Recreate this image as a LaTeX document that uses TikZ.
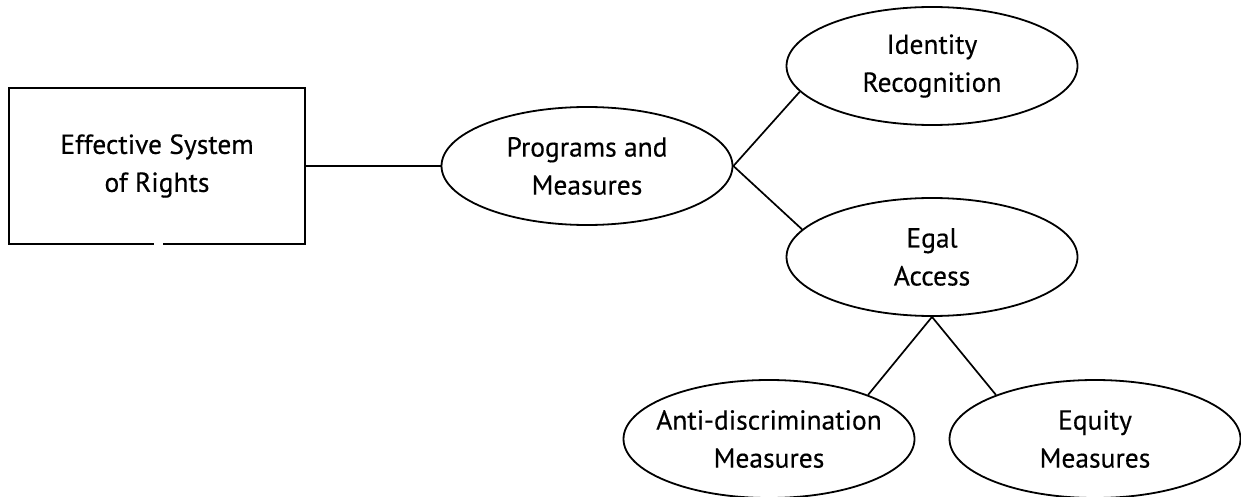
\documentclass[tikz,border=0pt]{standalone}
\usepackage{fontspec}
\setmainfont{PT Sans}
\newfontfamily\labfont{PT Sans}[FakeBold=0.35]
\usetikzlibrary{shapes.geometric}
\begin{document}
\begin{tikzpicture}[x=1pt,y=-1pt,
  every node/.style={font=\labfont\fontsize{27.5}{38}\selectfont, align=center, inner sep=0pt},
  oval/.style={ellipse, draw, line width=1.8pt, inner xsep=-40pt, minimum width=291pt, minimum height=118pt},
  box/.style={rectangle, draw, line width=1.8pt, minimum width=296pt, minimum height=156pt},
  link/.style={line width=1.7pt}]
\useasboundingbox (0,0) rectangle (1241,497);
\fill[white] (0,0) rectangle (1241,497);
\node[box] (sys) at (157,166) {Effective System\\of Rights};
\fill[white] (154,242) rectangle (163,247);
\node[oval] (prog) at (587,166) {Programs and\\Measures};
\node[oval] (ident) at (932,66) {Identity\\Recognition};
\node[oval] (egal) at (932,257) {Egal\\Access};
\node[oval] (anti) at (769,439) {Anti-discrimination\\Measures};
\node[oval] (equity) at (1095,439) {Equity\\Measures};
\draw[link] (sys.east) -- (prog.west);
\draw[link] (prog.east) -- (ident.191);
\draw[link] (prog.east) -- (egal.168);
\draw[link] (egal.south) -- (anti.24);
\draw[link] (egal.south) -- (equity.156);
\end{tikzpicture}
\end{document}
